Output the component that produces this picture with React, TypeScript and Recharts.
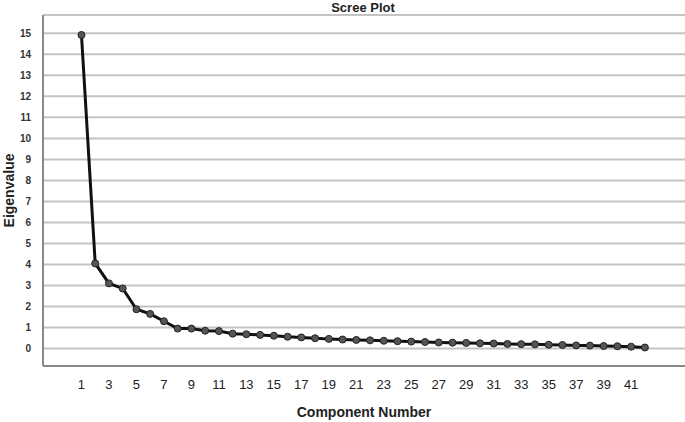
import { LineChart, Line, CartesianGrid, XAxis, YAxis, Label } from "recharts";

const components = [
  1, 2, 3, 4, 5, 6, 7, 8, 9, 10, 11, 12, 13, 14, 15, 16, 17, 18, 19, 20, 21,
  22, 23, 24, 25, 26, 27, 28, 29, 30, 31, 32, 33, 34, 35, 36, 37, 38, 39, 40,
  41, 42,
];

const eigenvalues = [
  14.92, 4.05, 3.1, 2.86, 1.87, 1.65, 1.3, 0.95, 0.95, 0.85, 0.83, 0.71, 0.68,
  0.65, 0.61, 0.56, 0.53, 0.49, 0.46, 0.43, 0.41, 0.39, 0.37, 0.35, 0.33,
  0.31, 0.29, 0.28, 0.27, 0.25, 0.24, 0.22, 0.21, 0.2, 0.18, 0.17, 0.15,
  0.14, 0.12, 0.11, 0.09, 0.05,
];

const xTicks = [1, 3, 5, 7, 9, 11, 13, 15, 17, 19, 21, 23, 25, 27, 29, 31, 33, 35, 37, 39, 41];
const yTicks = [0, 1, 2, 3, 4, 5, 6, 7, 8, 9, 10, 11, 12, 13, 14, 15];

const data = components.map((c, i) => ({ component: c, eigen: eigenvalues[i] }));

const font = "'Liberation Sans', Arial, sans-serif";

export default function App() {
  return (
    <div style={{ position: "absolute", left: 0, top: 0, width: 685, height: 422, background: "#fff", fontFamily: font }}>
      <div
        style={{
          position: "absolute",
          left: 0,
          width: 726,
          top: 0,
          textAlign: "center",
          fontSize: 13,
          fontWeight: "bold",
          color: "#222",
        }}
      >
        Scree Plot
      </div>
      <LineChart
        width={685}
        height={422}
        data={data}
        margin={{ top: 15, right: 0, left: 0, bottom: 0 }}
      >
        <CartesianGrid vertical={false} stroke="#c4c4c4" strokeWidth={2} />
        <XAxis
          dataKey="component"
          type="number"
          domain={[-1.8, 44.92]}
          allowDataOverflow
          ticks={xTicks}
          interval={0}
          height={56}
          tickLine={false}
          axisLine={{ stroke: "#8a8a8a", strokeWidth: 2 }}
          tick={{ fill: "#222", fontSize: 13, fontFamily: font }}
          tickMargin={8}
        >
          <Label
            value="Component Number"
            position="insideBottom"
            offset={5}
            style={{ fill: "#222", fontSize: 14, fontWeight: "bold", fontFamily: font }}
          />
        </XAxis>
        <YAxis
          type="number"
          domain={[-0.83, 15.87]}
          allowDataOverflow
          ticks={yTicks}
          interval={0}
          width={43}
          tickLine={false}
          axisLine={{ stroke: "#8a8a8a", strokeWidth: 2 }}
          tick={{ fill: "#333", fontSize: 10, fontWeight: "bold", fontFamily: font }}
          tickMargin={6}
        >
          <Label
            value="Eigenvalue"
            angle={-90}
            position="insideLeft"
            offset={9}
            style={{ fill: "#222", fontSize: 14, fontWeight: "bold", fontFamily: font, textAnchor: "middle" }}
          />
        </YAxis>
        <Line
          type="linear"
          dataKey="eigen"
          stroke="#111"
          strokeWidth={3}
          dot={{ r: 3.5, fill: "#555", stroke: "#222", strokeWidth: 1 }}
          isAnimationActive={false}
        />
      </LineChart>
    </div>
  );
}
